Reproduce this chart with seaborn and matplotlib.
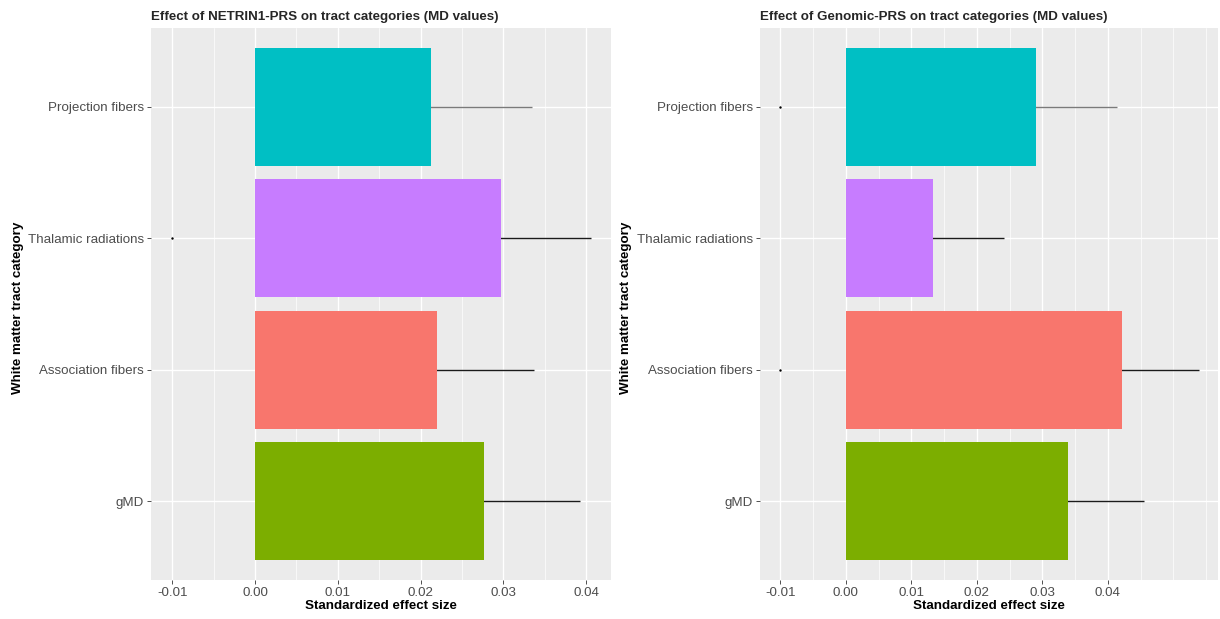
import numpy as np
import pandas as pd
import matplotlib
matplotlib.use("Agg")
import matplotlib.pyplot as plt
import seaborn as sns

sns.set_theme(style="darkgrid")
plt.rcParams['font.family'] = ['Liberation Sans', 'DejaVu Sans']

# ---- data ----
categories = ["Projection fibers", "Thalamic radiations", "Association fibers", "gMD"]

netrin_effect = [0.0213, 0.0297, 0.0220, 0.0277]
netrin_ci_low = [0.0091, 0.0188, 0.0103, 0.0161]
netrin_ci_high = [0.0335, 0.0406, 0.0337, 0.0393]
netrin_points = [np.nan, -0.0100, np.nan, np.nan]

genomic_effect = [0.0290, 0.0133, 0.0421, 0.0339]
genomic_ci_low = [0.0166, 0.0025, 0.0303, 0.0223]
genomic_ci_high = [0.0414, 0.0241, 0.0539, 0.0455]
genomic_points = [-0.0100, np.nan, -0.0100, np.nan]

titles = ["Effect of NETRIN1-PRS on tract categories (MD values)",
          "Effect of Genomic-PRS on tract categories (MD values)"]
xtick_vals = [-0.01, 0.00, 0.01, 0.02, 0.03, 0.04]
xtick_labels = ["-0.01", "0.00", "0.01", "0.02", "0.03", "0.04"]

palette = {"Association fibers": "#F8766D", "gMD": "#7CAE00",
           "Projection fibers": "#00BFC4", "Thalamic radiations": "#C77CFF"}

fig = plt.figure(figsize=(12.2, 6.19), dpi=100)
W, H = 1220, 619
axes_px = [(151, 28, 611, 580), (760, 28, 1218, 580)]
xlims = [(-0.01258, 0.0430), (-0.0131, 0.0568)]
minor_sets = [[-0.005, 0.005, 0.015, 0.025, 0.035],
              [-0.005, 0.005, 0.015, 0.025, 0.035, 0.045, 0.05, 0.055]]
err_colors = ["#7a7a7a", "#1a1a1a", "#1a1a1a", "#1a1a1a"]
ylabel_x = [24, 632]

panels = [(netrin_effect, netrin_ci_low, netrin_ci_high, netrin_points),
          (genomic_effect, genomic_ci_low, genomic_ci_high, genomic_points)]

for i, (eff, lo, hi, pts) in enumerate(panels):
    x0, y0, x1, y1 = axes_px[i]
    ax = fig.add_axes([x0 / W, 1 - y1 / H, (x1 - x0) / W, (y1 - y0) / H])
    ax.set_facecolor("#EBEBEB")
    df = pd.DataFrame({"category": categories, "effect": eff})
    sns.barplot(data=df, y="category", x="effect", hue="category", order=categories,
                palette=palette, width=0.9, saturation=1, legend=False, ax=ax,
                zorder=3)
    for p in ax.patches:
        p.set_edgecolor("none")
        p.set_zorder(3)
    ypos = np.arange(len(categories))
    for j in range(len(categories)):
        ax.hlines(ypos[j], lo[j], hi[j], color=err_colors[j], lw=1.0, zorder=2)
    ax.scatter(pts, ypos, s=3, color="black", zorder=4, linewidths=0)
    ax.set_xlim(*xlims[i])
    ax.set_ylim(3.6, -0.6)
    ax.set_xticks(xtick_vals)
    ax.set_xticklabels(xtick_labels)
    ax.set_xticks(minor_sets[i], minor=True)
    ax.grid(True, which="major", color="white", lw=1.0, zorder=0)
    ax.grid(True, which="minor", axis="x", color="white", lw=0.5, zorder=0)
    ax.set_axisbelow(True)
    for s in ax.spines.values():
        s.set_visible(False)
    ax.tick_params(axis="both", which="major", length=3, width=0.6, color="#333333",
                   labelcolor="#4D4D4D", labelsize=9.6, pad=2, bottom=True, left=True)
    ax.tick_params(axis="x", which="minor", length=0)
    ax.set_xlabel("Standardized effect size", fontsize=9.6, fontweight="bold",
                  color="black", labelpad=1)
    ax.set_ylabel("White matter tract category", fontsize=9.6, fontweight="bold",
                  color="black")
    ax.yaxis.set_label_coords((ylabel_x[i] - x0) / (x1 - x0), (y1 - 308) / (y1 - y0))
    ax.set_title(titles[i], loc="left", fontsize=9.6, fontweight="bold", pad=6)

fig.savefig("out.png", dpi=100, facecolor="white")
